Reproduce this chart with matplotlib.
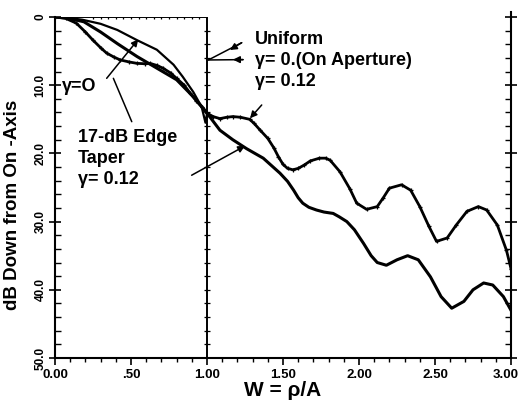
import matplotlib
import matplotlib.pyplot as plt
import matplotlib.transforms as mtransforms
from matplotlib.ticker import MultipleLocator

matplotlib.use("Agg")
plt.rcParams['font.family'] = ['Liberation Sans', 'DejaVu Sans']

# uniform illumination, gamma = 0.12 (marked curve)
unif_x = [0, 0.07, 0.14, 0.20, 0.25, 0.30, 0.34, 0.39, 0.43, 0.49, 0.54, 0.59, 0.625,
          0.67, 0.71, 0.76, 0.80, 0.85, 0.89, 0.93, 0.965, 1.0, 1.04, 1.085, 1.13, 1.17,
          1.22, 1.28, 1.31, 1.35, 1.40, 1.44, 1.47, 1.50, 1.53, 1.565, 1.60, 1.64, 1.68,
          1.74, 1.78, 1.81, 1.875, 1.94, 1.985, 2.05, 2.12, 2.16, 2.20, 2.28, 2.34, 2.40,
          2.46, 2.51, 2.58, 2.64, 2.71, 2.785, 2.84, 2.91, 2.97, 3.0]
unif_y = [0, 0.2, 0.9, 2.2, 3.4, 4.5, 5.3, 5.9, 6.3, 6.6, 6.8, 6.85, 6.8,
          7.1, 7.5, 8.2, 9.0, 10.0, 11.2, 12.3, 13.2, 14.1, 14.6, 14.9, 14.7, 14.6,
          14.7, 15.0, 15.6, 16.6, 17.8, 19.2, 20.5, 21.6, 22.2, 22.4, 22.2, 21.7, 21.1,
          20.7, 20.7, 21.0, 22.7, 25.2, 27.3, 28.2, 27.8, 26.5, 25.1, 24.6, 25.4, 27.8,
          30.7, 32.9, 32.4, 30.5, 28.5, 27.8, 28.3, 30.5, 34.2, 36.9]

# 17-dB edge taper, gamma = 0.12
taper_x = [0, 0.08, 0.19, 0.30, 0.41, 0.54, 0.67, 0.80, 0.91, 0.976, 1.0, 1.085, 1.17,
           1.26, 1.37, 1.48, 1.53, 1.57, 1.60, 1.63, 1.67, 1.72, 1.77, 1.83, 1.87, 1.92,
           1.97, 2.03, 2.08, 2.12, 2.18, 2.25, 2.32, 2.39, 2.47, 2.54, 2.61, 2.69, 2.75,
           2.82, 2.88, 2.95, 3.0]
taper_y = [0, 0.15, 0.7, 2.2, 3.9, 5.8, 7.5, 9.2, 11.7, 13.4, 14.1, 16.6, 18.0,
           19.3, 20.7, 22.9, 24.1, 25.4, 26.5, 27.3, 27.9, 28.3, 28.6, 28.8, 29.3, 30.0,
           31.2, 33.2, 35.0, 36.0, 36.4, 35.6, 35.0, 35.6, 38.1, 41.0, 42.7, 41.7, 40.0,
           39.0, 39.3, 41.0, 43.0]

# gamma = 0 curve inside the aperture
g0_x = [0, 0.08, 0.18, 0.30, 0.41, 0.54, 0.67, 0.78, 0.84, 0.91, 0.965, 0.99, 1.0]
g0_y = [0, 0.1, 0.4, 1.0, 1.9, 3.4, 4.8, 7.0, 8.75, 11.0, 13.2, 15.5, 14.2]

# uniform, gamma = 0 on aperture: flat then drops at the edge
ap_x = [0, 1.0, 1.0]
ap_y = [0, 0, 50]
ap_top_marks = [0.25, 0.3, 0.35, 0.4, 0.45, 0.5, 0.55, 0.6, 0.65, 0.7, 0.75, 0.8, 0.85, 0.9, 0.95]
ap_side_marks = [2, 4, 6, 8, 10, 12, 14, 16, 18, 20, 22, 24, 26, 28, 30, 32, 34, 36,
                 38, 40, 42, 44, 46, 48]

xticks = [0, 0.5, 1.0, 1.5, 2.0, 2.5, 3.0]
xlabels = ['0.00', '.50', '1.00', '1.50', '2.00', '2.50', '3.00']
yticks = [0, 10, 20, 30, 40, 50]
ylabels = ['0', '10.0', '20.0', '30.0', '40.0', '50.0']

fig = plt.figure(figsize=(5.21, 4.05), dpi=100)
ax = fig.add_axes([55 / 521, 47 / 405, 456 / 521, 341 / 405])

ax.plot(ap_x, ap_y, color='black', lw=1.4)
ax.plot(ap_top_marks, [0] * len(ap_top_marks), ls='none', marker='|', ms=3.5, color='black', mew=0.9)
ax.plot([1.0] * len(ap_side_marks), ap_side_marks, ls='none', marker='_', ms=4.5, color='black', mew=0.9)
ax.plot(g0_x, g0_y, color='black', lw=1.6)
ax.plot(taper_x, taper_y, color='black', lw=2.2)
ax.plot(unif_x, unif_y, color='black', lw=2.0, marker='+', ms=3.5, mew=0.9)

ax.set_xlim(0, 3.0)
ax.set_ylim(50, 0)
ax.set_xticks(xticks)
ax.set_xticklabels(xlabels, fontsize=9.5, fontweight='bold')
ax.set_yticks(yticks)
ax.set_yticklabels(ylabels, fontsize=8.5, fontweight='bold', rotation=90, va='center')
ax.xaxis.set_minor_locator(MultipleLocator(0.1))
ax.yaxis.set_minor_locator(MultipleLocator(2))
ax.spines['top'].set_visible(False)
ax.spines['right'].set_bounds(50, -0.7)
for s in ['left', 'bottom', 'right']:
    ax.spines[s].set_linewidth(1.5)
ax.tick_params(axis='x', which='major', direction='out', length=5, width=1.2, pad=3)
ax.tick_params(axis='x', which='minor', direction='out', length=3, width=1.0)
ax.tick_params(axis='y', which='major', direction='inout', length=8, width=1.2, right=True, pad=2)
ax.tick_params(axis='y', which='minor', direction='in', length=4, width=1.0, right=True)

# keep the last x label inside the figure edge
last = ax.get_xticklabels()[-1]
last.set_transform(last.get_transform() + mtransforms.ScaledTranslation(-4 / 72, 0, fig.dpi_scale_trans))

ax.set_xlabel('W = \u03c1/A', fontsize=15, fontweight='bold')
ax.xaxis.set_label_coords((283 - 55) / 456, -(381 - 358) / 341)
ax.set_ylabel('dB Down from On -Axis', fontsize=13.5, fontweight='bold')
ax.yaxis.set_label_coords(-(55 - 21) / 456, (358 - 205) / 341)

txt = dict(fontsize=13, fontweight='bold', ha='left', va='center')
ax.text(1.316, 3.37, 'Uniform', **txt)
ax.text(1.316, 6.45, '\u03b3= 0.(On Aperture)', **txt)
ax.text(1.316, 9.53, '\u03b3= 0.12', **txt)
ax.text(0.046, 10.26, '\u03b3=O', **txt)
ax.text(0.151, 17.6, '17-dB Edge', **txt)
ax.text(0.151, 20.8, 'Taper', **txt)
ax.text(0.151, 23.9, '\u03b3= 0.12', **txt)

arw = dict(arrowstyle='-|>', color='black', lw=1.1, mutation_scale=10, shrinkA=0, shrinkB=0)
line = dict(arrowstyle='-', color='black', lw=1.1, shrinkA=0, shrinkB=0)
# arrows to the on-aperture line, heads part way along
ax.annotate('', xy=(1.009, 6.3), xytext=(1.228, 3.77), arrowprops=line)
ax.annotate('', xy=(1.151, 4.84), xytext=(1.228, 3.77), arrowprops=arw)
ax.annotate('', xy=(1.009, 6.3), xytext=(1.237, 6.25), arrowprops=line)
ax.annotate('', xy=(1.171, 6.25), xytext=(1.237, 6.25), arrowprops=arw)
ax.annotate('', xy=(1.283, 14.85), xytext=(1.36, 12.9), arrowprops=arw)
ax.annotate('', xy=(0.548, 3.27), xytext=(0.34, 8.99), arrowprops=arw)
ax.annotate('', xy=(0.384, 8.99), xytext=(0.505, 15.35), arrowprops=line)
ax.annotate('', xy=(1.25, 18.9), xytext=(0.899, 23.2), arrowprops=arw)

fig.savefig('out.png', dpi=100)
